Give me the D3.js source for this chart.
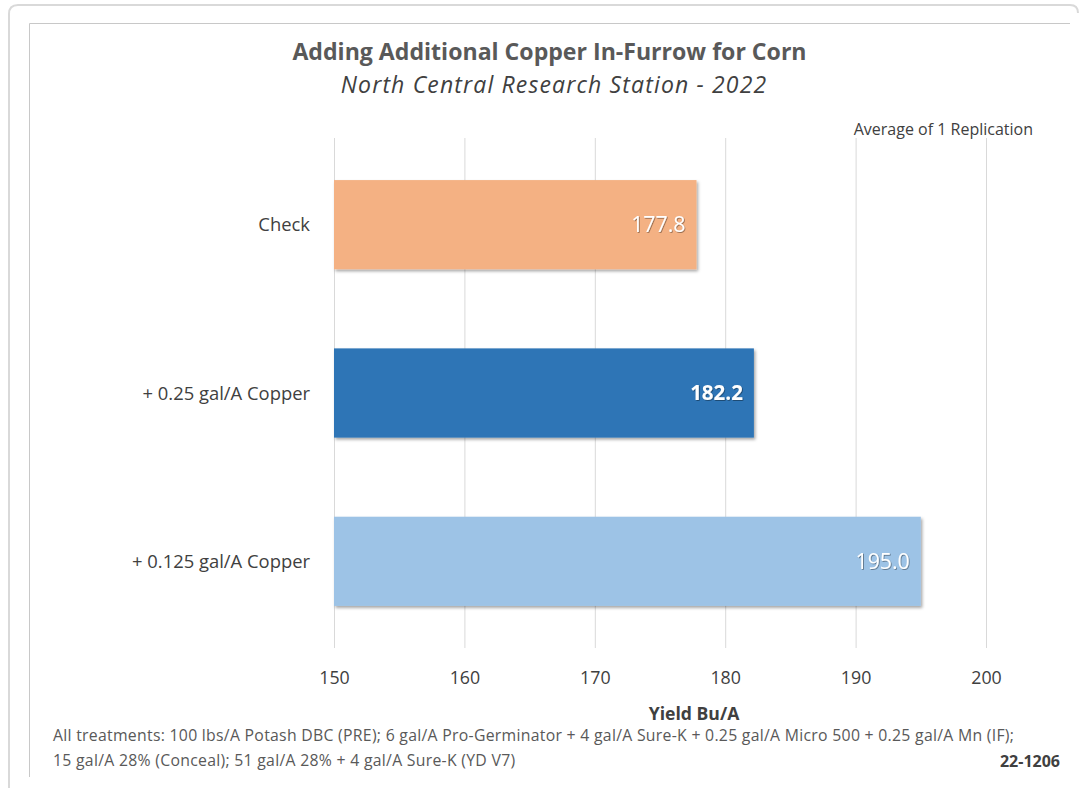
<!DOCTYPE html>
<html><head><meta charset="utf-8">
<script src="https://cdn.jsdelivr.net/npm/d3@7"></script>
<style>body{margin:0;background:#fff;}svg{display:block;font-family:"Open Sans",sans-serif;}</style>
</head><body>
<svg id="c" width="1085" height="788"></svg>
<script>
const categories = ["Check", "+ 0.25 gal/A Copper", "+ 0.125 gal/A Copper"];
const yields = [177.8, 182.2, 195.0];
const barColors = ["#F4B183", "#2E75B6", "#9DC3E6"];
const labelBold = [false, true, false];
const ticks = [150, 160, 170, 180, 190, 200];
const title = "Adding Additional Copper In-Furrow for Corn";
const subtitle = "North Central Research Station - 2022";
const note = "Average of 1 Replication";
const xTitle = "Yield Bu/A";
const footLines = ["All treatments: 100 lbs/A Potash DBC (PRE); 6 gal/A Pro-Germinator + 4 gal/A Sure-K + 0.25 gal/A Micro 500 + 0.25 gal/A Mn (IF);",
                   "15 gal/A 28% (Conceal); 51 gal/A 28% + 4 gal/A Sure-K (YD V7)"];
const code = "22-1206";

const svg = d3.select("#c");
const defs = svg.append("defs");
const f = defs.append("filter").attr("id","sh").attr("x","-5%").attr("y","-10%").attr("width","110%").attr("height","130%");
f.append("feDropShadow").attr("dx",1.5).attr("dy",2).attr("stdDeviation",1.5).attr("flood-color","#000").attr("flood-opacity",0.35);
const ft = defs.append("filter").attr("id","tsh");
ft.append("feDropShadow").attr("dx",0.8).attr("dy",0.8).attr("stdDeviation",0.6).attr("flood-color","#000").attr("flood-opacity",0.45);

// outer frame (rounded)
svg.append("path").attr("d","M9,788 L9,14 Q9,5 18,5 L1070,5 Q1078,5 1078,13")
  .attr("fill","none").attr("stroke","#d9d9d9").attr("stroke-width",2);
// inner chart border
svg.append("path").attr("d","M1070,23.5 L29.5,23.5 L29.5,777").attr("fill","none").attr("stroke","#c8c8c8").attr("stroke-width",1);

const x = d3.scaleLinear().domain([150, 200]).range([334, 986]);
const y = d3.scaleBand().domain(categories).range([138, 648]).paddingInner(0.47).paddingOuter(0.25);

// gridlines
svg.append("g").selectAll("line").data(ticks).join("line")
  .attr("x1", d => x(d)+0.5).attr("x2", d => x(d)+0.5)
  .attr("y1", 138).attr("y2", 648)
  .attr("stroke", "#d9d9d9").attr("stroke-width", 1);

// axis tick labels via d3 axis
const ax = svg.append("g").attr("transform","translate(0,648)")
  .call(d3.axisBottom(x).tickValues(ticks).tickSize(0).tickPadding(23));
ax.select(".domain").remove();
ax.selectAll("text").attr("font-family","'Open Sans', sans-serif").attr("font-size",17.8).attr("fill","#404040");

// bars
svg.append("g").selectAll("rect").data(yields).join("rect")
  .attr("x", x(150)).attr("y", (d,i) => y(categories[i]))
  .attr("width", d => x(d) - x(150)).attr("height", y.bandwidth())
  .attr("fill", (d,i) => barColors[i]).attr("filter","url(#sh)");

// value labels
svg.append("g").selectAll("text").data(yields).join("text")
  .attr("x", d => x(d) - 11).attr("y", (d,i) => y(categories[i]) + y.bandwidth()/2)
  .attr("dy","0.36em").attr("text-anchor","end")
  .attr("font-size",(d,i)=>labelBold[i]?20.5:21.3).attr("font-weight",(d,i)=>labelBold[i]?"bold":"normal")
  .attr("fill","#fff").attr("filter","url(#tsh)")
  .text(d => d.toFixed(1));

// category labels
svg.append("g").selectAll("text").data(categories).join("text")
  .attr("x", 310).attr("y", d => y(d) + y.bandwidth()/2)
  .attr("dy","0.36em").attr("text-anchor","end")
  .attr("font-size",18.4).attr("fill","#404040").text(d => d);

// titles
svg.append("text").attr("x",549.5).attr("y",60).attr("text-anchor","middle")
  .attr("font-size",23.1).attr("font-weight","bold").attr("fill","#595959").text(title);
svg.append("text").attr("x",554).attr("y",93).attr("text-anchor","middle")
  .attr("font-size",23).attr("letter-spacing",1.15).attr("font-style","italic").attr("fill","#404040").text(subtitle);
svg.append("text").attr("x",1033).attr("y",135).attr("text-anchor","end")
  .attr("font-size",16).attr("fill","#404040").text(note);
svg.append("text").attr("x",694).attr("y",720).attr("text-anchor","middle")
  .attr("font-size",17.6).attr("font-weight","bold").attr("fill","#404040").text(xTitle);
svg.append("g").selectAll("text").data(footLines).join("text")
  .attr("x",53).attr("y",(d,i)=>741+i*25)
  .attr("font-size",15.8).attr("letter-spacing",0.28).attr("fill","#595959").text(d=>d);
svg.append("text").attr("x",1060).attr("y",767).attr("text-anchor","end")
  .attr("font-size",16).attr("font-weight","bold").attr("fill","#404040").text(code);
</script>
</body></html>
